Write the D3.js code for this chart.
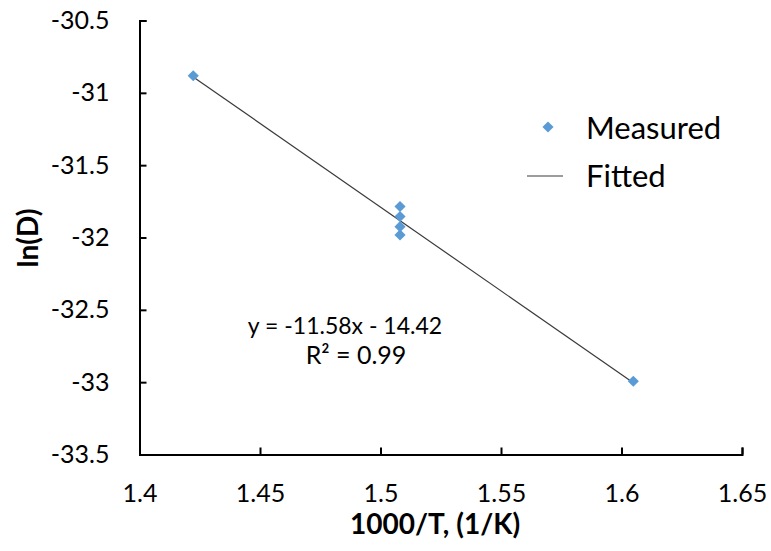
<!DOCTYPE html>
<html>
<head>
<meta charset="utf-8">
<script src="https://cdn.jsdelivr.net/npm/d3@7"></script>
<style>
  html, body { margin: 0; padding: 0; background: #fff; }
  svg { display: block; }
  text { font-family: Lato, "Open Sans", sans-serif; fill: #000; }
</style>
</head>
<body>
<svg id="chart" width="771" height="551"></svg>
<script>
// Arrhenius data: inverse temperature vs ln of diffusivity
const invT = [1.4223, 1.5081, 1.5081, 1.5081, 1.5081, 1.6049];
const lnD  = [-30.882, -31.786, -31.855, -31.925, -31.982, -32.994];

// Linear fit reported on the chart
const fitSlope = -11.58;
const fitIntercept = -14.42;
const fitR2 = 0.99;

const xTickValues = [1.4, 1.45, 1.5, 1.55, 1.6, 1.65];
const yTickValues = [-30.5, -31, -31.5, -32, -32.5, -33, -33.5];

const seriesNames = ["Measured", "Fitted"];
const xTitle = "1000/T, (1/K)";
const yTitle = "ln(D)";

const svg = d3.select("#chart");

const x = d3.scaleLinear().domain([1.4, 1.65]).range([139.5, 742]);
const y = d3.scaleLinear().domain([-33.5, -30.5]).range([454.5, 20.5]);

const fmt = v => String(v);

// Axes with inward ticks
const xAxis = svg.append("g")
  .attr("transform", `translate(0,${y(-33.5)})`)
  .call(d3.axisBottom(x).tickValues(xTickValues).tickFormat(fmt)
        .tickSize(-7).tickPadding(30));
const yAxis = svg.append("g")
  .attr("transform", `translate(${x(1.4)},0)`)
  .call(d3.axisLeft(y).tickValues(yTickValues).tickFormat(fmt)
        .tickSize(-7).tickPadding(30));

[xAxis, yAxis].forEach(g => {
  g.selectAll("path.domain").attr("stroke", "#000").attr("stroke-width", 2);
  g.selectAll(".tick line").attr("stroke", "#000").attr("stroke-width", 2);
  g.selectAll(".tick text")
    .style("font-family", "Lato, 'Open Sans', sans-serif")
    .style("font-size", "25px").attr("fill", "#000");
});

// Axis titles
svg.append("text")
  .attr("x", 435).attr("y", 534)
  .attr("text-anchor", "middle")
  .style("font-size", "28px").style("font-weight", "bold")
  .text(xTitle);

svg.append("text")
  .attr("transform", `translate(38,238) rotate(-90)`)
  .attr("text-anchor", "middle")
  .style("font-size", "28px").style("font-weight", "bold")
  .text(yTitle);

// Fitted line across the measured range
const xMin = d3.min(invT), xMax = d3.max(invT);
const fitLine = d3.line().x(d => x(d)).y(d => y(fitSlope * d + fitIntercept));
svg.append("path")
  .datum([xMin, xMax])
  .attr("d", fitLine)
  .attr("fill", "none")
  .attr("stroke", "#3a3a3a")
  .attr("stroke-width", 1.2);

// Measured points as diamonds
const diamond = d3.symbol().type(d3.symbolSquare).size(62);
svg.append("g").selectAll("path")
  .data(invT.map((v, i) => [v, lnD[i]]))
  .join("path")
  .attr("d", diamond)
  .attr("transform", d => `translate(${x(d[0])},${y(d[1])}) rotate(45)`)
  .attr("fill", "#5b9bd5");

// Legend
const legend = svg.append("g");
legend.append("path")
  .attr("d", d3.symbol().type(d3.symbolSquare).size(62))
  .attr("transform", "translate(548,127) rotate(45)")
  .attr("fill", "#5b9bd5");
legend.append("line")
  .attr("x1", 527).attr("x2", 563).attr("y1", 176).attr("y2", 176)
  .attr("stroke", "#3a3a3a").attr("stroke-width", 1.2);
legend.selectAll("text")
  .data(seriesNames)
  .join("text")
  .attr("x", 586)
  .attr("y", (d, i) => 139 + i * 48)
  .style("font-size", "31px")
  .text(d => d);

// Fit equation
const eq = svg.append("text")
  .attr("text-anchor", "middle")
  .style("font-size", "23px");
eq.append("tspan").attr("x", 345).attr("y", 334)
  .text(`y = ${fitSlope}x - ${Math.abs(fitIntercept)}`);
eq.append("tspan").attr("x", 356).attr("y", 364)
  .style("font-size", "25px")
  .text(`R² = ${fitR2}`);
</script>
</body>
</html>
